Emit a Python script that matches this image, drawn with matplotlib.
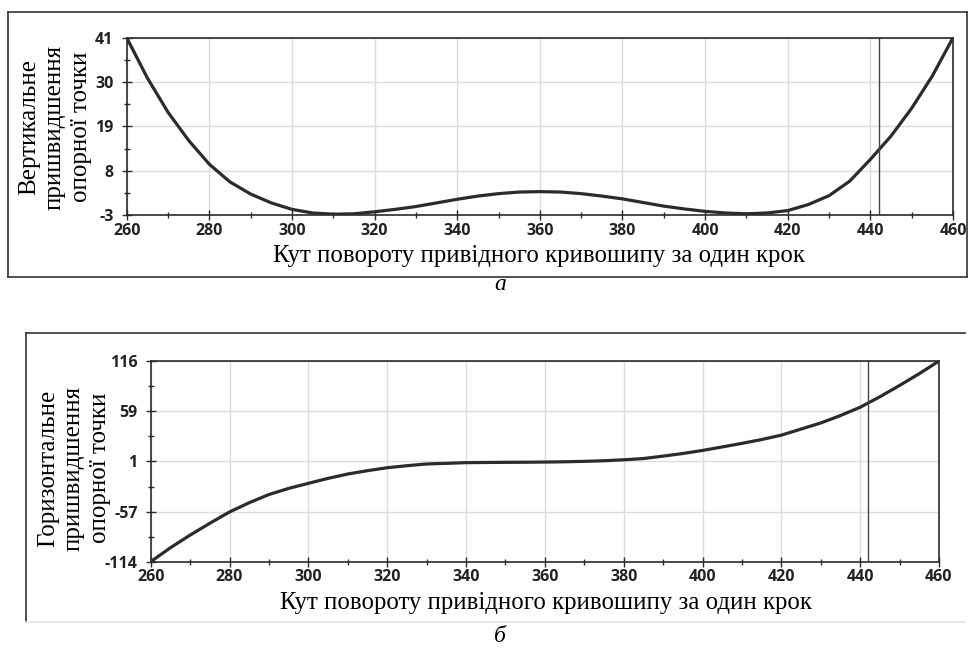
import matplotlib
matplotlib.use("Agg")
import matplotlib.pyplot as plt
from matplotlib.lines import Line2D
from matplotlib.ticker import FixedLocator

plt.rcParams["axes.unicode_minus"] = False

# crank angle, degrees
angle = [260, 265, 270, 275, 280, 285, 290, 295, 300, 305, 310, 315, 320, 325,
         330, 335, 340, 345, 350, 355, 360, 365, 370, 375, 380, 385, 390, 395,
         400, 405, 410, 415, 420, 425, 430, 435, 440, 445, 450, 455, 460]

# vertical acceleration of the support point (a)
vertical = [41, 31, 22.5, 15.5, 9.6, 5.2, 2.2, 0, -1.6, -2.5, -2.8, -2.7, -2.2, -1.6,
            -0.9, 0, 0.9, 1.7, 2.3, 2.7, 2.8, 2.7, 2.3, 1.7, 1.0, 0.1, -0.8, -1.5,
            -2.1, -2.5, -2.7, -2.5, -1.9, -0.4, 1.8, 5.4, 10.8, 16.6, 23.5, 31.5, 41]

# horizontal acceleration of the support point (b)
horizontal = [-114, -98, -83.5, -70, -57, -46.4, -37, -30, -24.2, -18.5, -13.5, -9.7,
              -6.3, -4, -2, -1.3, -0.5, -0.3, -0.1, 0, 0.2, 0.5, 1.0, 1.7, 2.8, 4.2,
              7, 10, 13.5, 17.5, 21.6, 26, 31, 38, 45, 53.5, 63, 75, 88, 101.5, 116]

x_ticks = [260, 280, 300, 320, 340, 360, 380, 400, 420, 440, 460]
v_ticks = [-3, 8, 19, 30, 41]
h_ticks = [-114, -57, 1, 59, 116]
marker_angle = 442

xlabel = "Кут повороту привідного кривошипу за один крок"
v_label = "Вертикальне\nпришвидшення\nопорної точки"
h_label = "Горизонтальне\nпришвидшення\nопорної точки"

W, H = 970, 650
SERIF = "Liberation Serif"
TICKFONT = dict(family="Open Sans", weight="bold", size=11.5)
DARK = "#2b2b2b"


def px_axes(fig, left, top, right, bottom):
    return fig.add_axes([left / W, 1 - bottom / H, (right - left) / W, (bottom - top) / H])


def style_axes(ax, yticks):
    ax.set_xlim(x_ticks[0], x_ticks[-1])
    ax.set_ylim(yticks[0], yticks[-1])
    ax.set_xticks(x_ticks)
    ax.set_yticks(yticks)
    xm = [(a + b) / 2 for a, b in zip(x_ticks[:-1], x_ticks[1:])]
    ym = [(a + b) / 2 for a, b in zip(yticks[:-1], yticks[1:])]
    ax.xaxis.set_minor_locator(FixedLocator(xm))
    ax.yaxis.set_minor_locator(FixedLocator(ym))
    ax.grid(True, which="major", color="#dcdcdc", lw=1.0)
    ax.set_axisbelow(True)
    ax.tick_params(which="major", direction="inout", length=7, width=1.0,
                   color=DARK, pad=2)
    ax.tick_params(which="minor", direction="inout", length=5, width=1.0, color=DARK)
    ax.tick_params(axis="y", which="major", pad=6)
    ax.tick_params(top=False, right=False)
    for lab in ax.get_xticklabels() + ax.get_yticklabels():
        lab.set_fontfamily(TICKFONT["family"])
        lab.set_fontweight(TICKFONT["weight"])
        lab.set_fontsize(TICKFONT["size"])
        lab.set_color("#222222")
    for sp in ax.spines.values():
        sp.set_color(DARK)
        sp.set_linewidth(1.2)


fig = plt.figure(figsize=(W / 100, H / 100), dpi=100)
fig.patch.set_facecolor("white")

# outer frames
def fline(x0, y0, x1, y1, color="#333333", lw=1.2):
    fig.add_artist(Line2D([x0 / W, x1 / W], [1 - y0 / H, 1 - y1 / H],
                          transform=fig.transFigure, color=color, lw=lw))

fline(8, 12, 967, 12)
fline(8, 12, 8, 277)
fline(8, 277, 967, 277)
fline(967, 12, 967, 277)
fline(26, 333, 965, 333)
fline(26, 333, 26, 622)
fline(26, 622, 965, 622, color="#e4e4e4")

# (a) vertical
ax1 = px_axes(fig, 126.7, 37.7, 953, 215)
ax1.plot(angle, vertical, color=DARK, lw=2.3, solid_capstyle="round")
ax1.axvline(marker_angle, color="#444444", lw=1.0)
style_axes(ax1, v_ticks)
fig.text(539 / W, 1 - 256 / H, xlabel, family=SERIF, size=17.8, ha="center", va="center")
fig.text(55 / W, 1 - 127 / H, v_label, family=SERIF, size=18, rotation=90,
         ha="center", va="center", multialignment="center", linespacing=1.25)
fig.text(500 / W, 1 - 284 / H, "а", family=SERIF, style="italic", size=17,
         ha="center", va="center")

# (б) horizontal
ax2 = px_axes(fig, 150.7, 361, 939, 561.7)
ax2.plot(angle, horizontal, color=DARK, lw=2.3, solid_capstyle="round")
ax2.axvline(marker_angle, color="#444444", lw=1.0)
style_axes(ax2, h_ticks)
fig.text(546 / W, 1 - 603 / H, xlabel, family=SERIF, size=17.8, ha="center", va="center")
fig.text(74 / W, 1 - 468 / H, h_label, family=SERIF, size=18, rotation=90,
         ha="center", va="center", multialignment="center", linespacing=1.25)
fig.text(500 / W, 1 - 636 / H, "б", family=SERIF, style="italic", size=17,
         ha="center", va="center")

fig.savefig("out.png", dpi=100, facecolor="white")
